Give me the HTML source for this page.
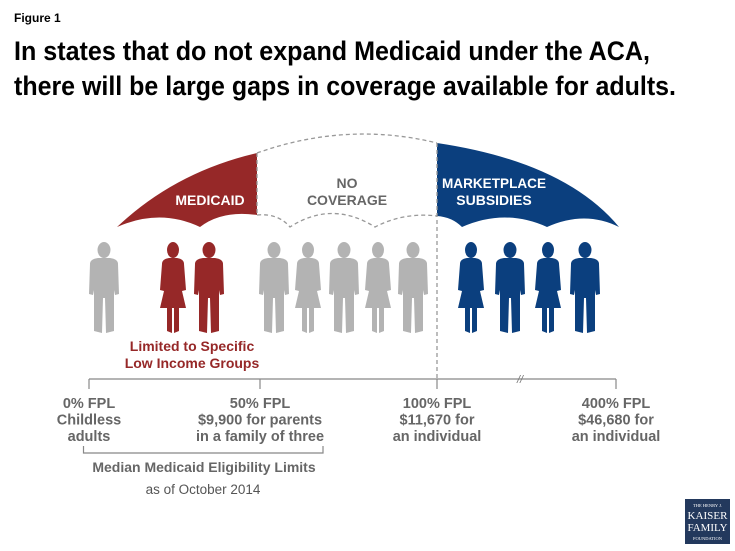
<!DOCTYPE html>
<html><head><meta charset="utf-8"><style>
html,body{margin:0;padding:0;background:#fff;}
svg{display:block;}
.lab{font-family:"Liberation Sans Narrow","Liberation Sans",sans-serif;font-weight:bold;fill:#666;font-size:14px;text-anchor:middle;}
</style></head><body>
<svg id="fig" width="735" height="551" viewBox="0 0 735 551">
<text x="14" y="22" font-family="Liberation Sans, sans-serif" font-weight="bold" font-size="12" fill="#000">Figure 1</text>
<text x="14" y="60" textLength="636" lengthAdjust="spacingAndGlyphs" font-family="Liberation Sans, sans-serif" font-weight="bold" font-size="27" fill="#000">In states that do not expand Medicaid under the ACA,</text>
<text x="14" y="95" textLength="662" lengthAdjust="spacingAndGlyphs" font-family="Liberation Sans, sans-serif" font-weight="bold" font-size="27" fill="#000">there will be large gaps in coverage available for adults.</text>

<path d="M117,227 Q175,172 257,153 L257,215 Q222,210 200,227 Q160,208 117,227 Z" fill="#962828"/>
<path d="M257,153 Q347,121 437,143 M257,215 Q278,213 290,227 Q332,200 375,227 Q404,212 437,216 M257,153 L257,215" fill="none" stroke="#999" stroke-width="1.3" stroke-dasharray="4,3"/>
<path d="M437,143 Q565,162 619,227 Q585,210 547,227 Q505,208 462,227 Q452,217 437,216 Z" fill="#0b3f7e"/>
<line x1="437" y1="143" x2="437" y2="379" stroke="#999" stroke-width="1.3" stroke-dasharray="4,3"/>

<text class="lab" x="210" y="205" style="fill:#fff">MEDICAID</text>
<text class="lab" x="347" y="188">NO</text>
<text class="lab" x="347" y="205">COVERAGE</text>
<text class="lab" x="494" y="188" style="fill:#fff" textLength="104" lengthAdjust="spacingAndGlyphs">MARKETPLACE</text>
<text class="lab" x="494" y="205" style="fill:#fff">SUBSIDIES</text>

<g id="people"></g>

<text class="lab" x="192" y="351" style="fill:#962828;font-size:14px">Limited to Specific</text>
<text class="lab" x="192" y="368" style="fill:#962828;font-size:14px">Low Income Groups</text>

<g id="axis"></g>

<path d="M83.5,446 L83.5,453 L323,453 L323,446" fill="none" stroke="#888" stroke-width="1.2"/>
<text class="lab" x="204" y="472" style="font-size:14px">Median Medicaid Eligibility Limits</text>
<text x="203" y="494" text-anchor="middle" font-family="Liberation Sans Narrow, Liberation Sans, sans-serif" font-size="13.5" fill="#555">as of October 2014</text>

<g>
<rect x="685" y="499" width="45" height="45" fill="#23395d"/>
<text x="707.5" y="507" text-anchor="middle" font-family="Liberation Serif, serif" font-size="4.5" fill="#fff">THE HENRY J.</text>
<text x="707.5" y="519" text-anchor="middle" font-family="Liberation Serif, serif" font-size="11" fill="#fff" textLength="40" lengthAdjust="spacingAndGlyphs">KAISER</text>
<text x="707.5" y="531" text-anchor="middle" font-family="Liberation Serif, serif" font-size="11" fill="#fff" textLength="40" lengthAdjust="spacingAndGlyphs">FAMILY</text>
<text x="707.5" y="540" text-anchor="middle" font-family="Liberation Serif, serif" font-size="4.5" fill="#fff">FOUNDATION</text>
</g>
</svg>
<script>
const personX = [104,173,209,274,308,344,378,413,471,510,548,585];
const personGroup = ["none","medicaid","medicaid","none","none","none","none","none","market","market","market","market"];
const personSex = ["m","f","m","m","f","m","f","m","f","m","f","m"];
const tickLabels = [["0% FPL","Childless","adults"],["50% FPL","$9,900 for parents","in a family of three"],["100% FPL","$11,670 for","an individual"],["400% FPL","$46,680 for","an individual"]];
const tickPos = [89,260,437,616];
const colors = {none:"#b3b3b3",medicaid:"#962828",market:"#0b3f7e"};
const NS="http://www.w3.org/2000/svg";
const pg=document.getElementById('people');
personX.forEach((cx,i)=>{
  const g=document.createElementNS(NS,'g');
  
  
  g.setAttribute('fill',colors[personGroup[i]]);
  const t=242;
  let d;
  if(personSex[i]==='m'){
    d=`M${cx-14},${t+22} Q${cx-14},${t+17} ${cx-6},${t+16} L${cx+6},${t+16} Q${cx+14},${t+17} ${cx+14},${t+22} L${cx+15},${t+52} L${cx+11},${t+53} L${cx+10},${t+48} L${cx+10},${t+89} L${cx+2},${t+91} L${cx+1},${t+56} L${cx-1},${t+56} L${cx-2},${t+91} L${cx-10},${t+89} L${cx-10},${t+48} L${cx-11},${t+53} L${cx-15},${t+52} Z`;
  } else {
    d=`M${cx-11},${t+22} Q${cx-11},${t+17} ${cx-4},${t+16} L${cx+4},${t+16} Q${cx+11},${t+17} ${cx+11},${t+22} L${cx+13},${t+48} L${cx+9},${t+49} L${cx+13},${t+66} L${cx+6},${t+66} L${cx+6},${t+89} L${cx+1},${t+91} L${cx+1},${t+66} L${cx-1},${t+66} L${cx-1},${t+91} L${cx-6},${t+89} L${cx-6},${t+66} L${cx-13},${t+66} L${cx-9},${t+49} L${cx-13},${t+48} Z`;
  }
  const p=document.createElementNS(NS,'path');p.setAttribute('d',d);g.appendChild(p);
  const h=document.createElementNS(NS,'ellipse');
  h.setAttribute('cx',cx);h.setAttribute('cy',t+8);h.setAttribute('rx',personSex[i]==='m'?6.5:6);h.setAttribute('ry',8);
  g.appendChild(h);
  pg.appendChild(g);
});
const ax=document.getElementById('axis');
const line=document.createElementNS(NS,'path');
line.setAttribute('d',`M${tickPos[0]},379 L${tickPos[3]},379`);
line.setAttribute('stroke','#888');line.setAttribute('stroke-width','1.2');line.setAttribute('fill','none');


ax.appendChild(line);
const br=document.createElementNS(NS,'text');
br.setAttribute('x',520);br.setAttribute('y',383);br.setAttribute('text-anchor','middle');
br.setAttribute('font-family','Liberation Sans, sans-serif');br.setAttribute('font-size','11');br.setAttribute('fill','#777');br.setAttribute('font-style','italic');
br.textContent='//';


ax.appendChild(br);
tickPos.forEach((x,i)=>{
  const tk=document.createElementNS(NS,'line');
  tk.setAttribute('x1',x);tk.setAttribute('x2',x);tk.setAttribute('y1',379);tk.setAttribute('y2',389);
  tk.setAttribute('stroke','#888');tk.setAttribute('stroke-width','1.2');
  
  
  ax.appendChild(tk);
  tickLabels[i].forEach((s,j)=>{
    const tx=document.createElementNS(NS,'text');
    tx.setAttribute('class','lab');tx.setAttribute('x',x);tx.setAttribute('y',408+j*16.5);
    tx.setAttribute('style','font-size:14.5px');
    tx.textContent=s;
    
    
    ax.appendChild(tx);
  });
});
</script>
</body></html>
